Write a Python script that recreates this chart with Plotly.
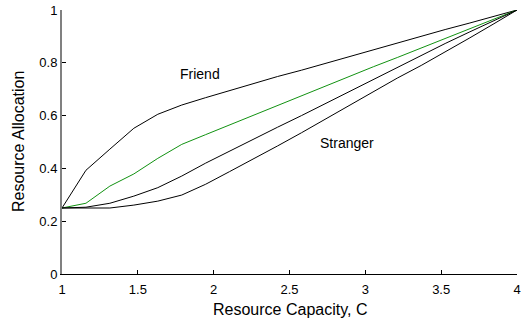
import numpy as np
import plotly.graph_objects as go

capacity = [1 + k * 3 / 19 for k in range(20)]

friend = [0.25, 0.393, 0.473, 0.552, 0.605, 0.64, 0.668, 0.695, 0.722, 0.748,
          0.772, 0.798, 0.824, 0.851, 0.876, 0.901, 0.926, 0.950, 0.975, 1.0]
middle = [0.25, 0.268, 0.333, 0.379, 0.438, 0.491, 0.528, 0.565, 0.601, 0.636,
          0.674, 0.712, 0.749, 0.785, 0.82, 0.856, 0.893, 0.928, 0.964, 1.0]
stranger_a = [0.25, 0.253, 0.268, 0.295, 0.327, 0.371, 0.42, 0.466, 0.51, 0.556,
              0.6, 0.646, 0.692, 0.735, 0.782, 0.828, 0.873, 0.916, 0.958, 1.0]
stranger_b = [0.25, 0.25, 0.25, 0.261, 0.276, 0.299, 0.34, 0.388, 0.435, 0.485,
              0.535, 0.587, 0.64, 0.692, 0.742, 0.79, 0.84, 0.893, 0.946, 1.0]

x_ticks = [1, 1.5, 2, 2.5, 3, 3.5, 4]
x_tick_text = ["1", "1.5", "2", "2.5", "3", "3.5", "4"]
y_ticks = [0, 0.2, 0.4, 0.6, 0.8, 1]
y_tick_text = ["0", "0.2", "0.4", "0.6", "0.8", "1"]

fig = go.Figure()
for ys, col in [(friend, "black"), (middle, "#119211"),
                (stranger_a, "black"), (stranger_b, "black")]:
    fig.add_trace(go.Scatter(x=capacity, y=ys, mode="lines",
                             line=dict(color=col, width=1), showlegend=False,
                             hoverinfo="skip"))

font = "Liberation Sans, Arial, sans-serif"
fig.add_annotation(x=1.91, y=0.758, text="Friend", showarrow=False,
                   font=dict(family=font, size=14, color="black"))
fig.add_annotation(x=2.88, y=0.496, text="Stranger", showarrow=False,
                   font=dict(family=font, size=14, color="black"))
# axis titles
fig.add_annotation(xref="paper", yref="paper", x=0.501, y=-0.136,
                   text="Resource Capacity, C", showarrow=False,
                   xanchor="center", yanchor="middle",
                   font=dict(family=font, size=16, color="black"))
fig.add_annotation(xref="paper", yref="paper", x=-0.0967, y=0.5,
                   text="Resource Allocation", showarrow=False, textangle=-90,
                   xanchor="center", yanchor="middle",
                   font=dict(family=font, size=16, color="black"))

fig.update_layout(
    width=531, height=320,
    margin=dict(l=62, r=14, t=10, b=46),
    plot_bgcolor="white", paper_bgcolor="white",
    font=dict(family=font, size=13, color="black"),
)
fig.update_xaxes(range=[1, 4], tickvals=x_ticks, ticktext=x_tick_text,
                 ticks="inside", ticklen=4, tickcolor="black",
                 ticklabelstandoff=3, automargin=False,
                 showline=True, linecolor="black", linewidth=1,
                 showgrid=False, zeroline=False)
fig.update_yaxes(range=[0, 1], tickvals=y_ticks, ticktext=y_tick_text,
                 ticks="inside", ticklen=4, tickcolor="black",
                 automargin=False,
                 showline=True, linecolor="#808080", linewidth=2,
                 showgrid=False, zeroline=False)

fig.write_html("out.html")
